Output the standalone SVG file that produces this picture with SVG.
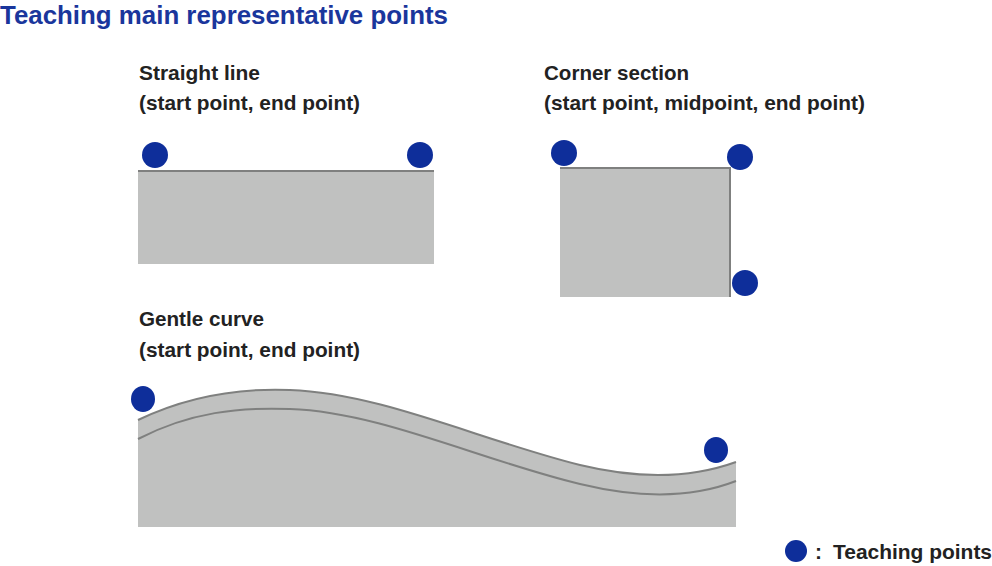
<svg xmlns="http://www.w3.org/2000/svg" width="992" height="566" viewBox="0 0 992 566">
<style>
text{font-family:"Liberation Sans",Arial,sans-serif;font-weight:bold;fill:#222}
.t{fill:#1a369c;font-size:25px}
.l{font-size:21px}
.pt{fill:#0e2e9a}
.g{fill:#c0c1c0}
.e{fill:none;stroke:#7f807f;stroke-width:2}
</style>
<rect width="992" height="566" fill="#fff"/>
<text class="t" x="0" y="24" textLength="448" lengthAdjust="spacingAndGlyphs">Teaching main representative points</text>
<g id="straight">
<text class="l" x="139" y="80" textLength="121" lengthAdjust="spacingAndGlyphs">Straight line</text>
<text class="l" x="139" y="110" textLength="221" lengthAdjust="spacingAndGlyphs">(start point, end point)</text>
<rect class="g" x="138" y="170" width="296" height="94"/>
<line class="e" x1="138" y1="171" x2="434" y2="171"/>
<circle class="pt" cx="155" cy="155" r="13"/>
<circle class="pt" cx="420" cy="155" r="13"/>
</g>
<g id="corner">
<text class="l" x="544" y="80" textLength="145" lengthAdjust="spacingAndGlyphs">Corner section</text>
<text class="l" x="544" y="110" textLength="321" lengthAdjust="spacingAndGlyphs">(start point, midpoint, end point)</text>
<rect class="g" x="560" y="167" width="170" height="130"/>
<polyline class="e" points="560,168 730,168 730,297"/>
<circle class="pt" cx="564" cy="153" r="13"/>
<circle class="pt" cx="740" cy="157" r="13"/>
<circle class="pt" cx="745" cy="283" r="13"/>
</g>
<g id="curve">
<text class="l" x="139" y="326" textLength="125" lengthAdjust="spacingAndGlyphs">Gentle curve</text>
<text class="l" x="139" y="357" textLength="221" lengthAdjust="spacingAndGlyphs">(start point, end point)</text>
<path class="g" d="M138,420 C190,395 240,388 290,390 C380,393 480,440 580,465 C650,482 700,475 736,462 L736,527 L138,527 Z"/>
<path class="e" d="M138,420 C190,395 240,388 290,390 C380,393 480,440 580,465 C650,482 700,475 736,462"/>
<path class="e" d="M138,439 C190,412 240,407 290,409 C380,412 480,460 580,484 C650,501 700,495 736,481"/>
<ellipse class="pt" cx="143" cy="399" rx="12" ry="13"/>
<ellipse class="pt" cx="716" cy="450" rx="12" ry="13"/>
</g>
<g id="legend">
<circle class="pt" cx="796" cy="551" r="11"/>
<text class="l" x="815" y="559">:</text>
<text class="l" x="833" y="559" textLength="159" lengthAdjust="spacingAndGlyphs">Teaching points</text>
</g>
</svg>
